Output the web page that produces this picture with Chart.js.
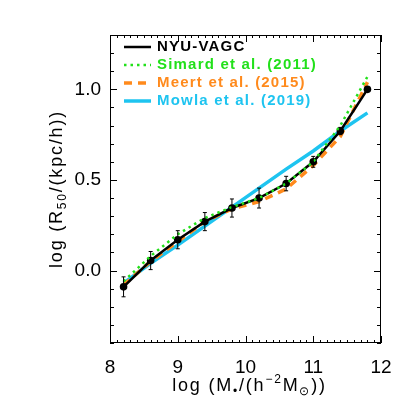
<!DOCTYPE html>
<html>
<head>
<meta charset="utf-8">
<script src="https://cdn.jsdelivr.net/npm/chart.js@4.4.1/dist/chart.umd.min.js"></script>
<style>
  html, body { margin: 0; padding: 0; background: #fff; }
  #wrap { width: 415px; height: 415px; }
</style>
</head>
<body>
<div id="wrap"><canvas id="myChart"></canvas></div>
<script>
// values
const logMass = [8.2, 8.6, 9.0, 9.4, 9.8, 10.2, 10.6, 11.0, 11.4, 11.8];
const nyuVagc = [-0.09, 0.055, 0.17, 0.27, 0.345, 0.40, 0.48, 0.60, 0.77, 1.0];
const nyuErr  = [0.055, 0.05, 0.05, 0.05, 0.05, 0.055, 0.04, 0.03, 0.02, 0.0];
const simard  = [-0.06, 0.08, 0.20, 0.29, 0.35, 0.40, 0.48, 0.60, 0.80, 1.07];
const meert   = [-0.08, 0.05, 0.16, 0.27, 0.34, 0.38, 0.45, 0.58, 0.74, 1.04];
const mowla   = [-0.07, 0.04, 0.14, 0.245, 0.35, 0.455, 0.56, 0.66, 0.77, 0.87];
const seriesNames = ['NYU-VAGC', 'Simard et al. (2011)', 'Meert et al. (2015)', 'Mowla et al. (2019)'];
const xTicks = [8, 9, 10, 11, 12];
const yTicks = [0.0, 0.5, 1.0];

const FONT = "'Liberation Sans', Arial, sans-serif";

function pts(ys) {
    return logMass.map((m, i) => ({ x: m, y: ys[i] }));
}

// draw a line of text with sub/superscript pieces, centred on (cx, cy)
function drawRich(ctx, parts, cx, cy, size) {
    let total = 0;
    parts.forEach(p => {
        ctx.font = (p.sub || p.sup ? Math.round(size * 0.65) : size) + 'px ' + FONT;
        p.w = ctx.measureText(p.t).width;
        total += p.w;
    });
    let x = cx - total / 2;
    ctx.textAlign = 'left';
    ctx.textBaseline = 'middle';
    parts.forEach(p => {
        ctx.font = (p.sub || p.sup ? Math.round(size * 0.65) : size) + 'px ' + FONT;
        let dy = p.sub ? size * 0.3 : (p.sup ? -size * 0.35 : 0);
        ctx.fillText(p.t, x, cy + dy);
        x += p.w;
    });
}

const frame = {
    id: 'frame',
    afterDatasetsDraw(chart) {
        const { ctx, scales: { x, y } } = chart;
        // error bars on the NYU-VAGC points
        ctx.save();
        ctx.strokeStyle = '#000';
        ctx.lineWidth = 1;
        logMass.forEach((m, i) => {
            if (!nyuErr[i]) return;
            const px = x.getPixelForValue(m);
            const y1 = y.getPixelForValue(nyuVagc[i] - nyuErr[i]);
            const y2 = y.getPixelForValue(nyuVagc[i] + nyuErr[i]);
            ctx.beginPath();
            ctx.moveTo(px, y1); ctx.lineTo(px, y2);
            ctx.moveTo(px - 2, y1); ctx.lineTo(px + 2, y1);
            ctx.moveTo(px - 2, y2); ctx.lineTo(px + 2, y2);
            ctx.stroke();
        });
        ctx.restore();
    },
    afterDraw(chart) {
        const { ctx, chartArea: a, scales: { x, y } } = chart;
        ctx.save();
        // box
        ctx.strokeStyle = '#000';
        ctx.lineWidth = 1;
        ctx.strokeRect(a.left + 0.5, a.top + 0.5, a.right - a.left - 1, a.bottom - a.top - 1);
        // x ticks, every 0.1 with majors on the integers
        ctx.beginPath();
        for (let k = 80; k <= 120; k++) {
            const px = Math.round(x.getPixelForValue(k / 10)) + 0.5;
            const len = k % 10 === 0 ? 7 : 3;
            ctx.moveTo(px, a.bottom); ctx.lineTo(px, a.bottom - len);
            ctx.moveTo(px, a.top); ctx.lineTo(px, a.top + len);
        }
        // y ticks, every 0.1 with majors every 0.5
        for (let k = -4; k <= 13; k++) {
            const py = Math.round(y.getPixelForValue(k / 10)) + 0.5;
            const len = k % 5 === 0 ? 7 : 4;
            ctx.moveTo(a.left, py); ctx.lineTo(a.left + len, py);
            ctx.moveTo(a.right, py); ctx.lineTo(a.right - len, py);
        }
        ctx.stroke();

        // axis titles
        ctx.fillStyle = '#000';
        ctx.letterSpacing = '1.8px';
        drawRich(ctx, [
            { t: 'log (M' }, { t: '•', sub: true }, { t: '/(h' },
            { t: '−2', sup: true }, { t: 'M' }, { t: '⊙', sub: true }, { t: '))' }
        ], (a.left + a.right) / 2 + 4, 386, 18);
        ctx.save();
        ctx.translate(57, (a.top + a.bottom) / 2);
        ctx.rotate(-Math.PI / 2);
        drawRich(ctx, [
            { t: 'log (R' }, { t: '50', sub: true }, { t: '/(kpc/h))' }
        ], 0, 0, 18);
        ctx.restore();

        // legend in the upper left of the plot
        ctx.letterSpacing = '1.2px';
        ctx.font = 'bold 15px ' + FONT;
        ctx.textAlign = 'left';
        ctx.textBaseline = 'middle';
        chart.data.datasets.forEach((ds, i) => {
            const ly = 47 + i * 18;
            ctx.strokeStyle = ds.borderColor;
            ctx.lineWidth = ds.borderWidth;
            ctx.setLineDash(ds.borderDash || []);
            ctx.beginPath();
            ctx.moveTo(124, ly); ctx.lineTo(151, ly);
            ctx.stroke();
            ctx.setLineDash([]);
            ctx.fillStyle = ds.borderColor;
            ctx.fillText(ds.label, 157, ly);
        });
        ctx.restore();
    }
};

const ctx = document.getElementById('myChart').getContext('2d');
new Chart(ctx, {
    type: 'line',
    data: {
        datasets: [{
            label: seriesNames[0],
            data: pts(nyuVagc),
            borderColor: '#000000',
            backgroundColor: '#000000',
            borderWidth: 2.5,
            pointRadius: 3.8,
            pointBackgroundColor: '#000000',
            pointBorderWidth: 0,
            order: 1
        }, {
            label: seriesNames[1],
            data: pts(simard),
            borderColor: '#22e01a',
            borderWidth: 2.5,
            borderDash: [2.5, 4],
            pointRadius: 0,
            order: 0
        }, {
            label: seriesNames[2],
            data: pts(meert),
            borderColor: '#ff8a1c',
            borderWidth: 3.5,
            borderDash: [8, 6],
            pointRadius: 0,
            order: 2
        }, {
            label: seriesNames[3],
            data: pts(mowla),
            borderColor: '#1ec4f0',
            borderWidth: 3.5,
            pointRadius: 0,
            order: 3
        }]
    },
    options: {
        responsive: true,
        maintainAspectRatio: false,
        animation: false,
        layout: { padding: { top: 35, right: 34, left: 0, bottom: 0 } },
        plugins: {
            legend: { display: false },
            tooltip: { enabled: false }
        },
        scales: {
            x: {
                type: 'linear',
                min: 8,
                max: 12,
                grid: { display: false, drawTicks: false },
                border: { display: false },
                afterBuildTicks: s => { s.ticks = xTicks.map(v => ({ value: v })); },
                afterFit: s => { s.height = 72; },
                ticks: {
                    padding: 13,
                    color: '#000',
                    font: { family: FONT, size: 19 },
                    maxRotation: 0,
                    autoSkip: false,
                    callback: v => String(v)
                }
            },
            y: {
                type: 'linear',
                min: -0.4,
                max: 1.3,
                grid: { display: false, drawTicks: false },
                border: { display: false },
                afterBuildTicks: s => { s.ticks = yTicks.map(v => ({ value: v })); },
                afterFit: s => { s.width = 110; },
                ticks: {
                    padding: 9,
                    color: '#000',
                    font: { family: FONT, size: 19 },
                    callback: v => Number(v).toFixed(1)
                }
            }
        }
    },
    plugins: [frame]
});
</script>
</body>
</html>
